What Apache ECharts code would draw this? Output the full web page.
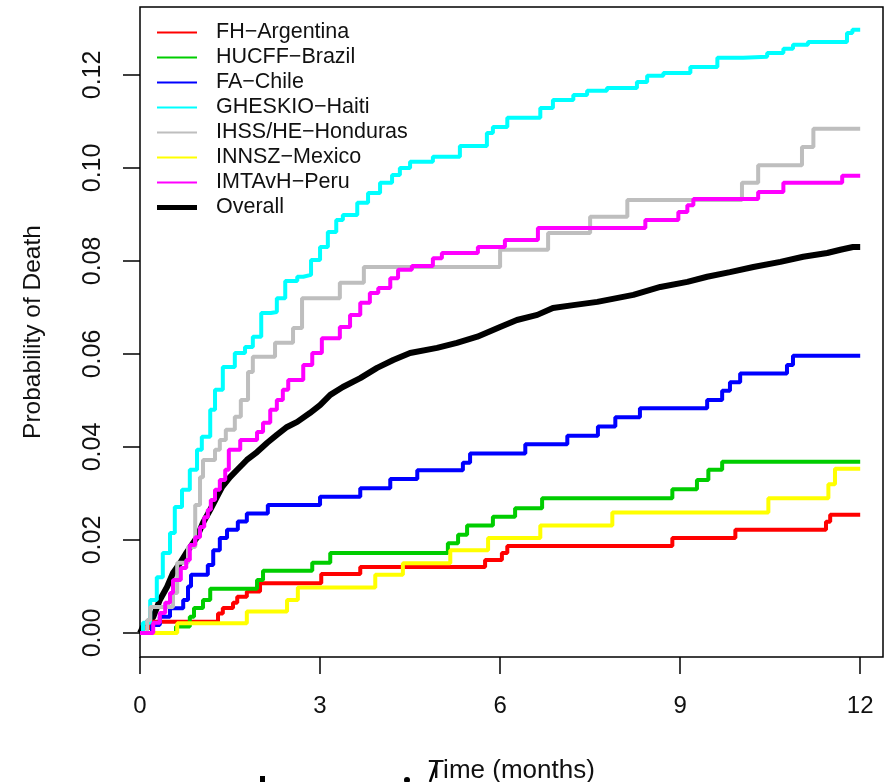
<!DOCTYPE html>
<html>
<head>
<meta charset="utf-8">
<script src="https://cdn.jsdelivr.net/npm/echarts@6/dist/echarts.min.js"></script>
<style>
  html, body { margin: 0; padding: 0; background: #fff; }
  #chart { width: 891px; height: 782px; }
</style>
</head>
<body>
<div id="chart"></div>
<script>
// cumulative probability of death, [month, probability] step points
const argentina = [[0, 0], [0.05, 0.0011], [0.17, 0.0024], [1.3, 0.0042], [1.38, 0.0054], [1.55, 0.0065], [1.62, 0.0078], [1.78, 0.0089], [2.0, 0.0107], [3.02, 0.0127], [3.67, 0.0142], [5.75, 0.0157], [6.03, 0.0172], [6.12, 0.0187], [8.87, 0.0204], [9.92, 0.0222], [11.43, 0.0239], [11.5, 0.0254], [12, 0.0254]];
const brazil = [[0, 0], [0.6, 0.0014], [0.83, 0.0035], [0.9, 0.0054], [1.05, 0.0071], [1.17, 0.0095], [1.95, 0.0114], [2.05, 0.0134], [2.87, 0.0151], [3.17, 0.0172], [5.13, 0.0193], [5.3, 0.0211], [5.45, 0.0231], [5.88, 0.025], [6.25, 0.0268], [6.7, 0.029], [8.87, 0.0309], [9.28, 0.0329], [9.47, 0.0351], [9.7, 0.0368], [12, 0.0368]];
const chile = [[0, 0], [0.2, 0.0017], [0.33, 0.0035], [0.5, 0.0053], [0.72, 0.0071], [0.8, 0.01], [0.85, 0.0125], [1.13, 0.0146], [1.22, 0.0178], [1.33, 0.0204], [1.45, 0.0222], [1.63, 0.024], [1.78, 0.0257], [2.13, 0.0275], [3.0, 0.0293], [3.67, 0.0311], [4.17, 0.0331], [4.62, 0.035], [5.38, 0.0366], [5.5, 0.0386], [6.42, 0.0406], [7.12, 0.0424], [7.63, 0.0444], [7.92, 0.0464], [8.33, 0.0483], [9.45, 0.0501], [9.7, 0.0521], [9.83, 0.0539], [10.0, 0.0558], [10.78, 0.0576], [10.88, 0.0596], [12, 0.0596]];
const haiti = [[0, 0], [0.05, 0.0022], [0.17, 0.0071], [0.28, 0.012], [0.38, 0.0172], [0.5, 0.0215], [0.58, 0.0271], [0.7, 0.0308], [0.83, 0.0351], [0.95, 0.0394], [1.03, 0.0422], [1.17, 0.048], [1.25, 0.0523], [1.38, 0.0572], [1.58, 0.0602], [1.75, 0.0615], [1.88, 0.0637], [2.02, 0.0688], [2.18, 0.069], [2.28, 0.072], [2.42, 0.0757], [2.62, 0.0766], [2.72, 0.077], [2.85, 0.0802], [3.0, 0.083], [3.13, 0.0862], [3.27, 0.0888], [3.38, 0.0899], [3.62, 0.0925], [3.8, 0.0946], [4.0, 0.0968], [4.2, 0.0985], [4.33, 0.1], [4.5, 0.1013], [4.88, 0.1024], [5.33, 0.1047], [5.78, 0.1075], [5.88, 0.1088], [6.12, 0.1108], [6.67, 0.1129], [6.88, 0.1146], [7.22, 0.1157], [7.45, 0.1166], [7.78, 0.1172], [8.28, 0.1185], [8.45, 0.1198], [8.72, 0.1204], [9.17, 0.1217], [9.62, 0.1237], [10.05, 0.1239], [10.45, 0.1247], [10.72, 0.1256], [10.88, 0.1265], [11.13, 0.1271], [11.78, 0.129], [11.87, 0.1297], [12, 0.1297]];
const honduras = [[0, 0], [0.12, 0.0028], [0.17, 0.0056], [0.55, 0.0086], [0.62, 0.0151], [0.8, 0.0185], [0.92, 0.0275], [1.0, 0.0335], [1.05, 0.0372], [1.25, 0.0394], [1.33, 0.0415], [1.43, 0.0437], [1.58, 0.0465], [1.68, 0.0501], [1.8, 0.0561], [1.88, 0.0594], [2.25, 0.0624], [2.55, 0.0656], [2.7, 0.072], [3.33, 0.0753], [3.73, 0.0787], [6.0, 0.0824], [6.8, 0.086], [7.5, 0.0895], [8.12, 0.0931], [10.03, 0.0968], [10.3, 0.1006], [11.03, 0.1045], [11.22, 0.1084], [12, 0.1084]];
const mexico = [[0, 0], [0.62, 0.0021], [1.78, 0.0046], [2.45, 0.0071], [2.63, 0.0098], [3.92, 0.0125], [4.38, 0.015], [5.17, 0.0178], [5.8, 0.0204], [6.67, 0.0231], [7.87, 0.0259], [10.47, 0.029], [11.47, 0.032], [11.58, 0.0353], [12, 0.0353]];
const peru = [[0, 0], [0.22, 0.0022], [0.33, 0.0043], [0.42, 0.0065], [0.5, 0.0086], [0.55, 0.0114], [0.68, 0.014], [0.77, 0.0157], [0.83, 0.0189], [0.92, 0.0206], [1.0, 0.0228], [1.07, 0.0249], [1.13, 0.0265], [1.18, 0.0286], [1.25, 0.0308], [1.33, 0.0329], [1.42, 0.0351], [1.48, 0.0394], [1.67, 0.0415], [1.95, 0.0432], [2.05, 0.0452], [2.17, 0.048], [2.28, 0.0501], [2.38, 0.0523], [2.47, 0.0544], [2.72, 0.0576], [2.87, 0.0602], [3.03, 0.0634], [3.33, 0.0658], [3.5, 0.0684], [3.67, 0.071], [3.83, 0.0731], [3.97, 0.0742], [4.17, 0.0763], [4.3, 0.0781], [4.53, 0.0789], [4.88, 0.0806], [5.03, 0.0817], [5.63, 0.083], [6.08, 0.0845], [6.63, 0.0871], [8.42, 0.0888], [8.97, 0.0905], [9.12, 0.092], [9.22, 0.0933], [10.3, 0.0948], [10.72, 0.0968], [11.7, 0.0983], [12, 0.0983]];
const overall = [[0, 0], [0.05, 0.0013], [0.22, 0.0034], [0.33, 0.0071], [0.45, 0.0099], [0.55, 0.0129], [0.67, 0.0151], [0.78, 0.0174], [0.95, 0.0206], [1.05, 0.0237], [1.17, 0.0265], [1.28, 0.0292], [1.37, 0.0314], [1.5, 0.0335], [1.62, 0.0351], [1.78, 0.0372], [1.95, 0.0389], [2.12, 0.0409], [2.28, 0.0426], [2.45, 0.0443], [2.62, 0.0454], [2.83, 0.0473], [3.0, 0.049], [3.17, 0.0512], [3.38, 0.0529], [3.67, 0.0548], [3.95, 0.057], [4.22, 0.0587], [4.5, 0.0602], [4.95, 0.0613], [5.28, 0.0624], [5.62, 0.0637], [6.0, 0.0658], [6.28, 0.0673], [6.62, 0.0684], [6.88, 0.0699], [7.22, 0.0705], [7.62, 0.0712], [8.22, 0.0727], [8.67, 0.0744], [9.12, 0.0755], [9.45, 0.0766], [9.83, 0.0776], [10.22, 0.0787], [10.67, 0.0798], [11.05, 0.0809], [11.45, 0.0817], [11.67, 0.0824], [11.88, 0.083], [12, 0.083]];

const siteNames = ['FH−Argentina', 'HUCFF−Brazil', 'FA−Chile', 'GHESKIO−Haiti', 'IHSS/HE−Honduras', 'INNSZ−Mexico', 'IMTAvH−Peru'];
const siteData = [argentina, brazil, chile, haiti, honduras, mexico, peru];
const siteColors = ['#ff0000', '#00cd00', '#0000ff', '#00ffff', '#bebebe', '#ffff00', '#ff00ff'];
const overallName = 'Overall';

const xTicks = [0, 3, 6, 9, 12];
const yTicks = [0, 0.02, 0.04, 0.06, 0.08, 0.10, 0.12];

const font = 'Liberation Sans, Arial, sans-serif';
const ink = '#111';

const chart = echarts.init(document.getElementById('chart'), null, { renderer: 'canvas' });

const series = [
    {
        name: overallName,
        type: 'line',
        data: overall,
        showSymbol: false,
        color: '#000',
        lineStyle: { color: '#000', width: 6 },
        z: 2
    },
    ...siteNames.map((name, i) => ({
        name,
        type: 'line',
        step: 'end',
        data: siteData[i],
        showSymbol: false,
        color: siteColors[i],
        lineStyle: { color: siteColors[i], width: 4 },
        z: 3
    }))
];

const legendText = { fontFamily: font, fontSize: 21.5, color: ink, lineHeight: 25, padding: [0, 0, 0, 14] };

const option = {
    animation: false,
    backgroundColor: '#fff',
    grid: {
        left: 140, right: 8, top: 7, bottom: 125,
        outerBoundsMode: 'none',
        show: true, borderColor: '#000', borderWidth: 1.5, backgroundColor: 'transparent'
    },
    legend: [
        {
            data: siteNames,
            orient: 'vertical',
            left: 157, top: 20, padding: 0,
            icon: 'rect', itemWidth: 40, itemHeight: 2, itemGap: 0,
            textStyle: legendText,
            selectedMode: false
        },
        {
            data: [overallName],
            orient: 'vertical',
            left: 157, top: 195, padding: 0,
            icon: 'rect', itemWidth: 40, itemHeight: 5, itemGap: 0,
            textStyle: legendText,
            selectedMode: false
        }
    ],
    xAxis: {
        type: 'value',
        min: 0, max: 12.38,
        name: 'Time (months)',
        nameLocation: 'middle',
        nameGap: 101,
        nameTextStyle: { fontFamily: font, fontSize: 26, color: ink },
        axisLine: { show: false, onZero: false },
        splitLine: { show: false },
        axisTick: { show: true, customValues: xTicks, length: 17, lineStyle: { color: '#000', width: 1.5 } },
        axisLabel: { customValues: xTicks, margin: 37, fontFamily: font, fontSize: 24, color: ink }
    },
    yAxis: {
        type: 'value',
        min: -0.00516, max: 0.1346,
        name: 'Probability of Death',
        nameLocation: 'middle',
        nameGap: 94,
        nameRotate: 90,
        nameTextStyle: { fontFamily: font, fontSize: 24.5, color: ink },
        axisLine: { show: false, onZero: false },
        splitLine: { show: false },
        axisTick: { show: true, customValues: yTicks, length: 17, lineStyle: { color: '#000', width: 1.5 } },
        axisLabel: {
            customValues: yTicks, rotate: 90, margin: 34,
            fontFamily: font, fontSize: 25, color: ink,
            formatter: v => v.toFixed(2)
        }
    },
    graphic: [
        // bits of a cropped caption peeking in at the bottom edge
        { type: 'rect', shape: { x: 260, y: 776, width: 5, height: 6 }, style: { fill: '#000' } },
        { type: 'circle', shape: { cx: 407, cy: 780, r: 3 }, style: { fill: '#000' } },
        { type: 'line', shape: { x1: 437, y1: 762, x2: 430, y2: 782 }, style: { stroke: '#000', lineWidth: 2.5 } }
    ],
    series
};

chart.setOption(option);
</script>
</body>
</html>
